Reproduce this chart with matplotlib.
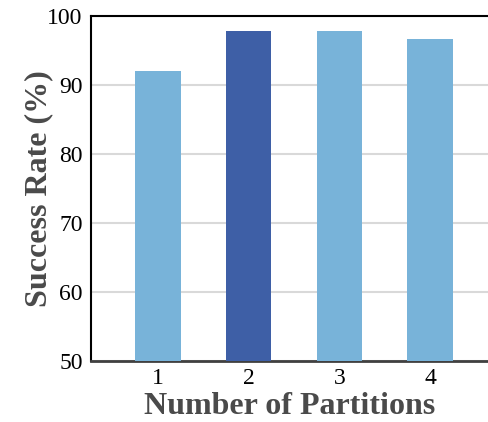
import numpy as np
import matplotlib.pyplot as plt

partitions = ['1', '2', '3', '4']
success_rate = [92.0, 97.9, 97.9, 96.7]
bar_colors = ['#78b3d9', '#3e5fa6', '#78b3d9', '#78b3d9']

plt.rcParams['font.family'] = ['Liberation Serif', 'DejaVu Serif']

fig = plt.figure(figsize=(4.88, 4.22), dpi=100)
ax = fig.add_axes([0.1865, 0.1445, 0.8135, 0.8175])

x = np.arange(1, len(partitions) + 1)
ax.bar(x, success_rate, width=0.5, color=bar_colors, zorder=3)

ax.set_ylim(50, 100)
ax.set_xlim(0.26, 4.64)
ax.set_yticks([50, 60, 70, 80, 90, 100])
ax.set_xticks(x)
ax.set_xticklabels(partitions)
ax.grid(axis='y', color='#d9d9d9', linewidth=1.5, zorder=0)

ax.spines['right'].set_visible(False)
ax.spines['top'].set_color('black')
ax.spines['top'].set_linewidth(1.5)
ax.spines['left'].set_color('black')
ax.spines['left'].set_linewidth(1.5)
ax.spines['bottom'].set_color('#404040')
ax.spines['bottom'].set_linewidth(2)

ax.tick_params(axis='y', labelsize=17, length=0, pad=6)
ax.tick_params(axis='x', labelsize=17, length=0, pad=5)

ax.set_xlabel('Number of Partitions', fontsize=23, fontweight='bold', color='#4a4a4a', labelpad=2)
ax.set_ylabel('Success Rate (%)', fontsize=23, fontweight='bold', color='#4a4a4a', labelpad=-4)

fig.savefig('out.png', dpi=100)
